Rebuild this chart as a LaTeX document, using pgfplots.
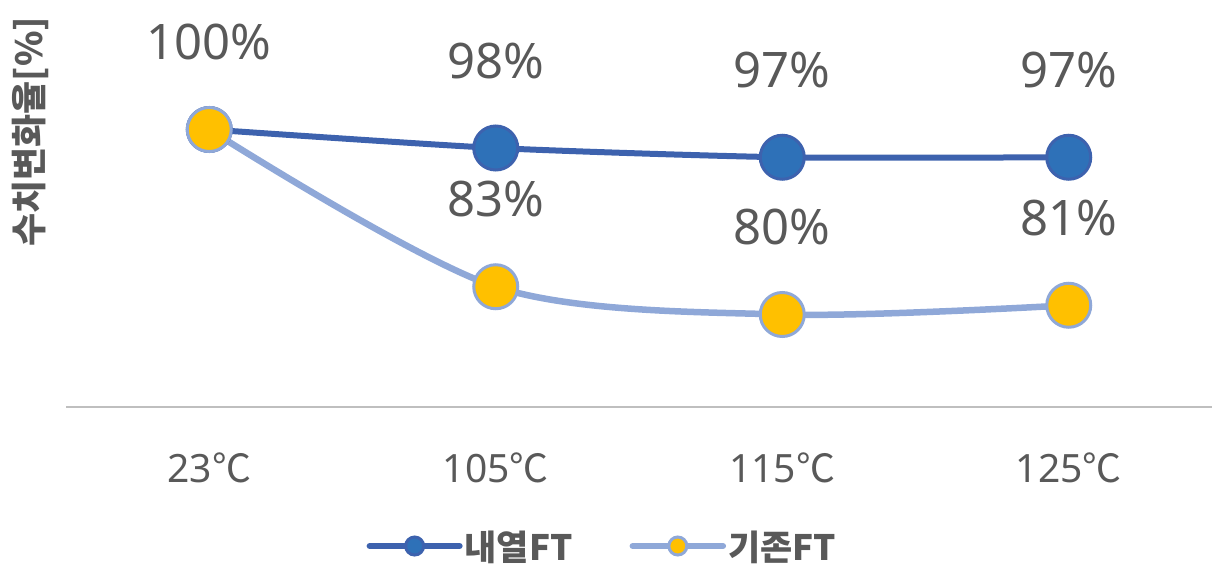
\documentclass[border=0pt]{standalone}
\usepackage{fontspec}
\setmainfont{Noto Sans}
\newfontfamily\kr{Noto Sans CJK KR}
\usepackage{pgfplots}
\pgfplotsset{compat=1.18}
\definecolor{bline}{HTML}{3D62AE}
\definecolor{bfill}{HTML}{2E71B8}
\definecolor{lline}{HTML}{8FA8D8}
\definecolor{yfill}{HTML}{FFC000}
\definecolor{txt}{HTML}{595959}
\definecolor{axc}{HTML}{BFBFBF}
\begin{document}
\begin{tikzpicture}
\useasboundingbox (-66pt,-164pt) rectangle (1158pt,407pt);
\begin{axis}[
  at={(0pt,0pt)}, anchor=south west,
  scale only axis, width=1146pt, height=407pt,
  xmin=-0.5, xmax=3.5, ymin=70, ymax=114,
  axis x line=bottom, axis y line=none,
  axis line style={draw=axc, line width=2.5pt, -},
  xtick={0,1,2,3},
  xticklabels={{23{\kr ℃}},{105{\kr ℃}},{115{\kr ℃}},{125{\kr ℃}}},
  major tick length=0pt,
  xticklabel style={anchor=base, yshift=-75pt, font=\fontsize{39}{44}\selectfont, text=txt},
  clip=false,
  legend style={at={(rel axis cs:0.468,0)}, anchor=center, yshift=-139pt, draw=none,
    font=\kr\bfseries\fontsize{35}{40}\selectfont, text=txt,
    /tikz/every even column/.style={column sep=55pt}},
  legend columns=2,
  legend image code/.code={
    \draw[#1, line cap=round] (0pt,0pt) -- (90pt,0pt);
    \draw[#1, mark size=9pt] plot coordinates {(45pt,0pt)};
  },
  nodes near coords={\pgfmathprintnumber[assume math mode=true]{\pgfplotspointmeta}\%},
  every node near coord/.append style={anchor=base, yshift=70pt, font=\fontsize{49}{55}\selectfont, text=txt},
]
\addplot[bline, line width=6pt, smooth, tension=0.4, mark=*, mark size=22pt,
  mark options={fill=bfill, draw=bline, line width=3pt}, point meta=explicit]
  coordinates {(0,100) [100] (1,98) [98] (2,97) [97] (3,97) [97]};
\addlegendentry{내열FT}
\addplot[lline, line width=6.5pt, smooth, tension=0.5, mark=*, mark size=22pt,
  mark options={fill=yfill, draw=lline, line width=3pt}, nodes near coords={}]
  coordinates {(0,100) (1,83) (2,80) (3,81)};
\addlegendentry{기존FT}
\addplot[only marks, draw=none, mark=none, point meta=explicit, forget plot]
  coordinates {(1,83) [83] (2,80) [80] (3,81) [81]};
\end{axis}
\node[rotate=90, text=txt, font=\kr\bfseries\fontsize{36}{40}\selectfont] at (-36pt,275pt) {수치변화율[\%]};
\end{tikzpicture}
\end{document}
